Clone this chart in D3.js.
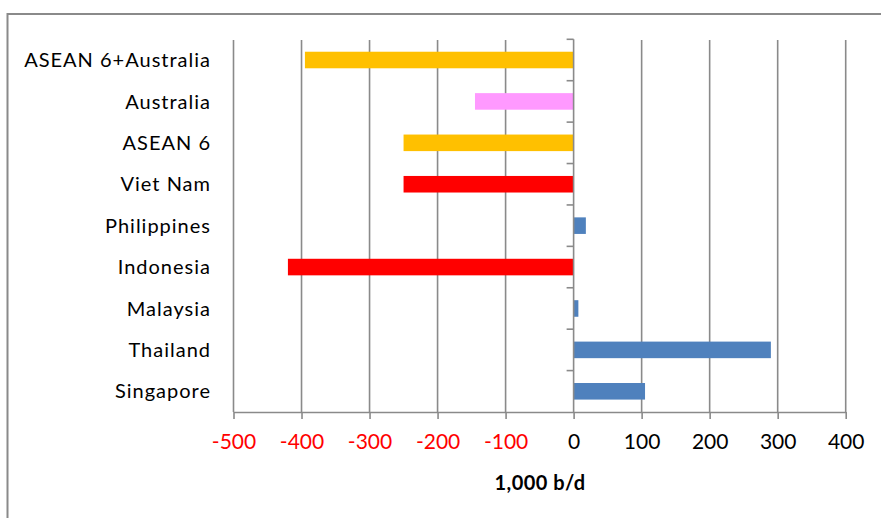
<!DOCTYPE html>
<html>
<head>
<meta charset="utf-8">
<script src="https://cdn.jsdelivr.net/npm/d3@7"></script>
<style>
  html, body { margin: 0; padding: 0; background: #fff; }
  svg { display: block; }
  text { font-family: Lato, "Open Sans", sans-serif; }
</style>
</head>
<body>
<svg id="chart" width="881" height="518"></svg>
<script>
// Change in oil balance by economy, thousand barrels per day
const categories = ["ASEAN 6+Australia", "Australia", "ASEAN 6", "Viet Nam", "Philippines",
                    "Indonesia", "Malaysia", "Thailand", "Singapore"];
const values = [-395, -145, -250, -250, 18, -420, 7, 290, 105];
const barColors = ["#FFC000", "#FF99FF", "#FFC000", "#FF0000", "#4F81BD",
                   "#FF0000", "#4F81BD", "#4F81BD", "#4F81BD"];
const tickValues = [-500, -400, -300, -200, -100, 0, 100, 200, 300, 400];
const axisTitle = "1,000 b/d";

const svg = d3.select("#chart");
const gridColor = "#8a8a8a";

// outer chart frame
svg.append("rect")
  .attr("x", 7.5).attr("y", 14)
  .attr("width", 900).attr("height", 520)
  .attr("fill", "none").attr("stroke", "#8a8a8a").attr("stroke-width", 2);

const x = d3.scaleLinear().domain([-500, 400]).range([233.5, 845.7]);
const y = d3.scaleBand().domain(categories).range([39.3, 412]).padding(0);
const step = y.step();
const barH = step * 0.4;

// vertical gridlines
svg.append("g").selectAll("line")
  .data(tickValues.filter(v => v !== 0))
  .join("line")
  .attr("x1", d => x(d)).attr("x2", d => x(d))
  .attr("y1", 40).attr("y2", 412)
  .attr("stroke", gridColor).attr("stroke-width", 1.6);

// bars
svg.append("g").selectAll("rect")
  .data(categories)
  .join("rect")
  .attr("x", (d, i) => Math.min(x(0), x(values[i])))
  .attr("width", (d, i) => Math.abs(x(values[i]) - x(0)))
  .attr("y", d => y(d) + (step - barH) / 2)
  .attr("height", barH)
  .attr("fill", (d, i) => barColors[i]);

// category axis at zero with tick marks between bands
const yAxis = svg.append("g");
yAxis.append("line")
  .attr("x1", x(0)).attr("x2", x(0))
  .attr("y1", 39.3).attr("y2", 412)
  .attr("stroke", gridColor).attr("stroke-width", 1.6);
yAxis.selectAll("line.tick")
  .data(d3.range(categories.length))
  .join("line").attr("class", "tick")
  .attr("x1", x(0) - 7).attr("x2", x(0))
  .attr("y1", i => 39.3 + i * step).attr("y2", i => 39.3 + i * step)
  .attr("stroke", gridColor).attr("stroke-width", 1.6);

// category labels on the left
svg.append("g").selectAll("text")
  .data(categories)
  .join("text")
  .attr("x", 211)
  .attr("y", d => y(d) + step / 2)
  .attr("dy", "0.36em")
  .attr("text-anchor", "end")
  .attr("font-size", 20)
  .attr("letter-spacing", 1)
  .attr("fill", "#000")
  .text(d => d);

// value axis along the bottom
const xAxis = d3.axisBottom(x).tickValues(tickValues).tickSize(7).tickSizeOuter(0)
  .tickFormat(d => String(d));
const gx = svg.append("g").attr("transform", "translate(0,412)").call(xAxis);
gx.select(".domain").attr("stroke", gridColor).attr("stroke-width", 1.6);
gx.selectAll(".tick line").attr("stroke", gridColor).attr("stroke-width", 1.6);
gx.selectAll(".tick text")
  .attr("y", 22).attr("dy", "0.71em")
  .attr("font-size", 21)
  .attr("font-family", "Lato, 'Open Sans', sans-serif")
  .attr("fill", d => d < 0 ? "#FF0000" : "#000");

svg.append("text")
  .attr("x", 540).attr("y", 490)
  .attr("text-anchor", "middle")
  .attr("font-size", 20)
  .attr("font-weight", "bold")
  .attr("letter-spacing", 0.5)
  .attr("fill", "#000")
  .text(axisTitle);
</script>
</body>
</html>
